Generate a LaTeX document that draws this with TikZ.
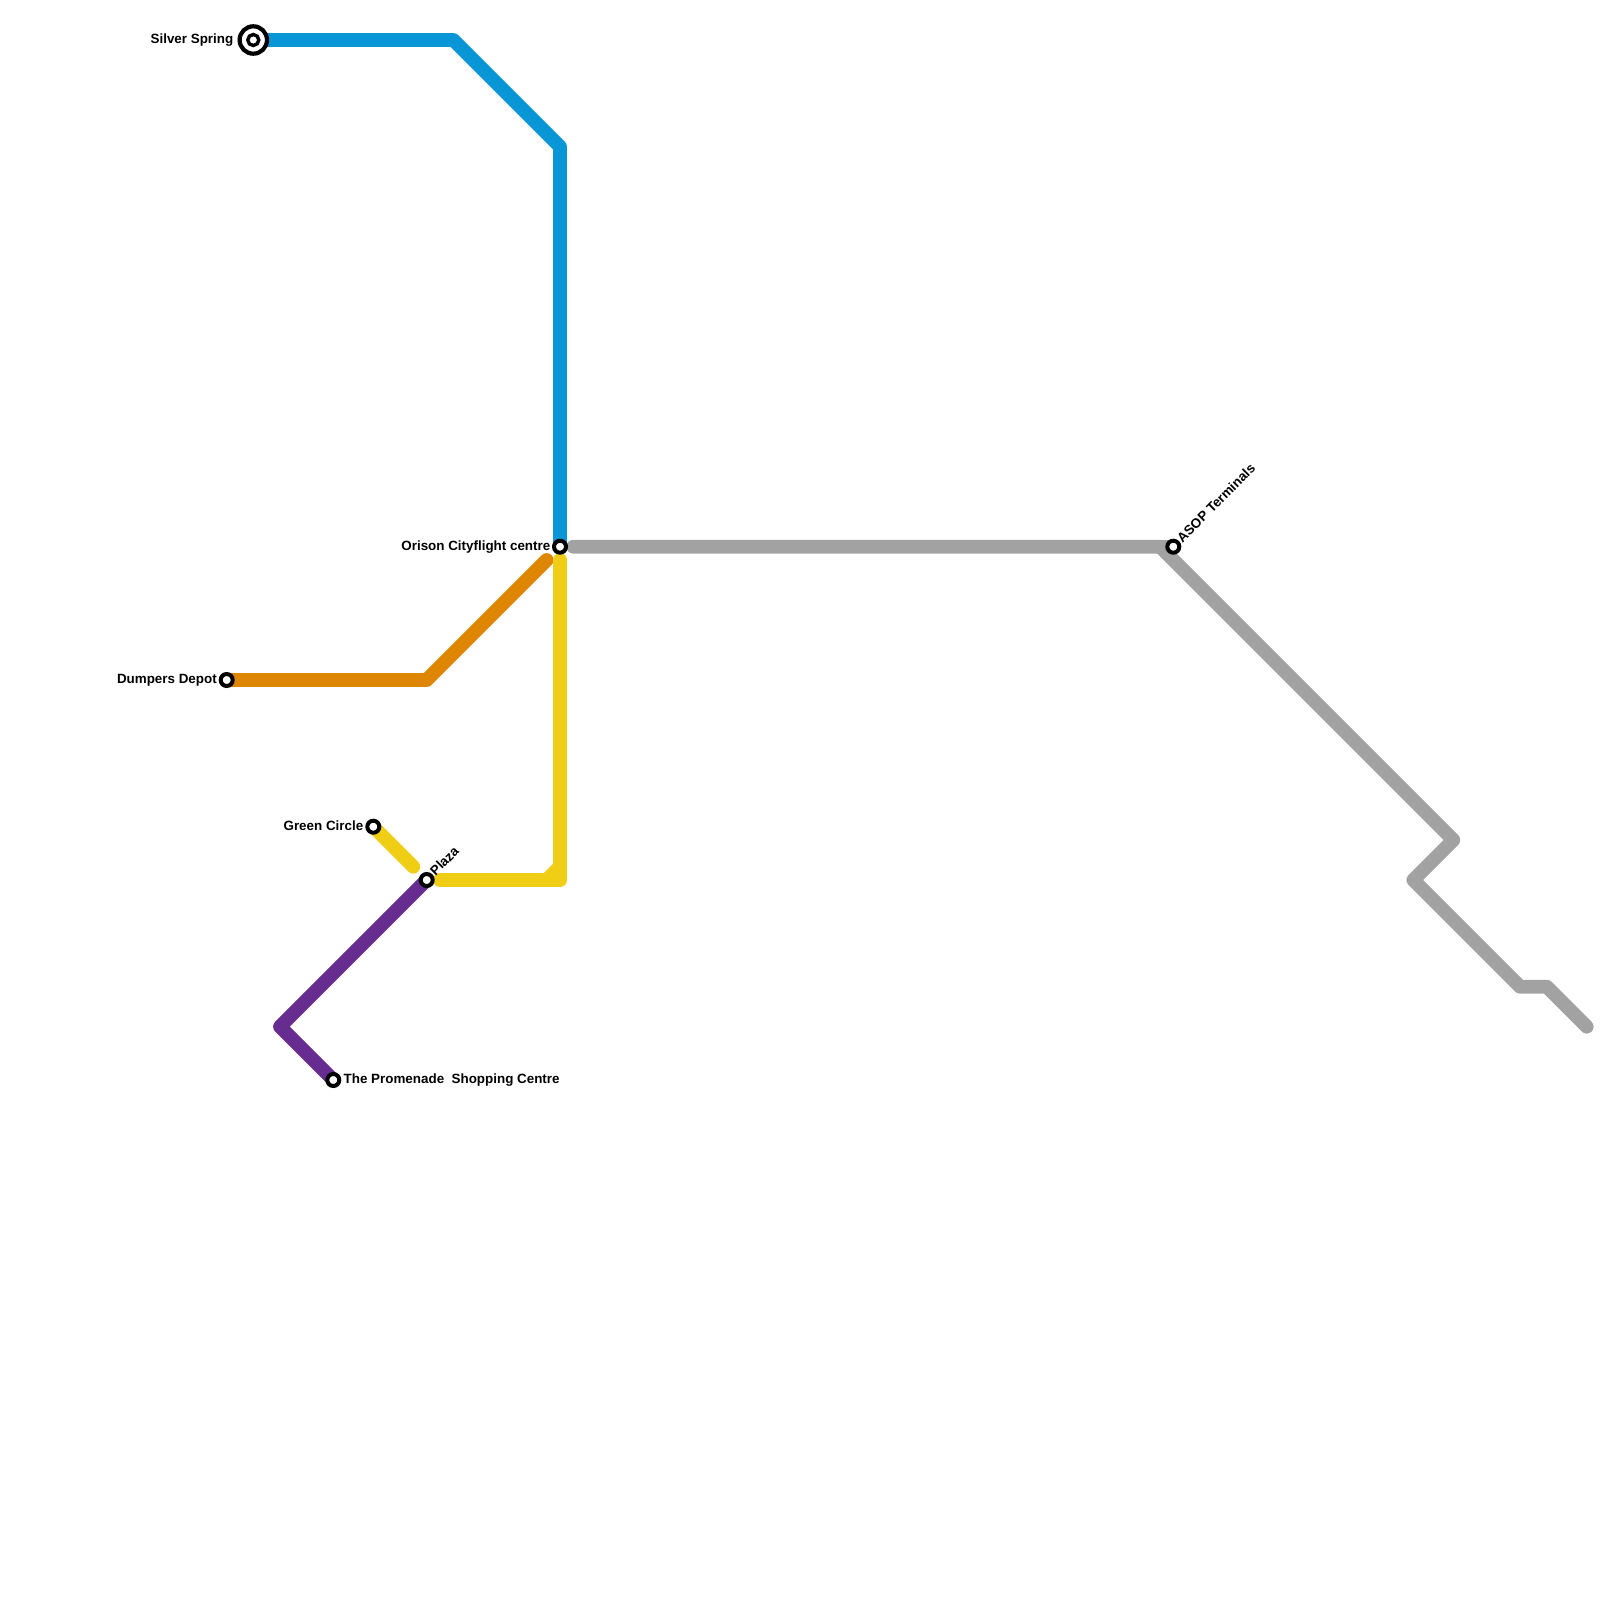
\documentclass[tikz,border=0pt]{standalone}
\usepackage{fontspec}
\setmainfont{Liberation Sans}
\definecolor{lblue}{HTML}{0896D7}
\definecolor{lgray}{HTML}{A2A2A2}
\definecolor{lorange}{HTML}{DF8600}
\definecolor{lyellow}{HTML}{F0CE15}
\definecolor{lpurple}{HTML}{662C90}
\tikzset{
  metro/.style={line width=13.8pt,line cap=round,line join=round},
  stn/.style={circle,draw=black,fill=white,line width=4pt,minimum size=12pt,inner sep=0pt,outer sep=0pt},
  stnbig/.style={circle,draw=black,fill=white,line width=4.2pt,minimum size=27.4pt,inner sep=0pt,outer sep=0pt},
  stnin/.style={circle,draw=black,fill=white,line width=3.4pt,minimum size=11pt,inner sep=0pt,outer sep=0pt},
  lab/.style={font=\fontsize{13.4pt}{15pt}\selectfont\bfseries,inner sep=0pt,text=black},
}
\begin{document}
\begin{tikzpicture}[x=1pt,y=-1pt]
\useasboundingbox (0,0) rectangle (1600,1600);
% waypoints
\coordinate (b1) at (453.3,40);
\coordinate (b2) at (560,146.7);
\coordinate (g0) at (573.3,546.7);
\coordinate (g1) at (1160,546.7);
\coordinate (g2) at (1453.3,840);
\coordinate (g3) at (1413.3,880);
\coordinate (g4) at (1520,986.7);
\coordinate (g5) at (1546.7,986.7);
\coordinate (g6) at (1586.7,1026.7);
\coordinate (o1) at (426.7,680);
\coordinate (o2) at (546.7,560);
\coordinate (y1) at (413.3,866.7);
\coordinate (y2) at (440,880);
\coordinate (y3) at (560,880);
\coordinate (y4) at (560,560);
\coordinate (y5) at (546.7,880);
\coordinate (y6) at (560,866.7);
\coordinate (p1) at (280,1026.7);
% station centres
\coordinate (silver) at (253.3,40);
\coordinate (orison) at (560,546.7);
\coordinate (asop) at (1173.3,546.7);
\coordinate (dumpers) at (226.7,680);
\coordinate (green) at (373.3,826.7);
\coordinate (plaza) at (426.7,880);
\coordinate (prom) at (333.3,1080);
% lines
\draw[metro,lblue] (silver) -- (b1) -- (b2) -- (orison);
\draw[metro,lgray] (g0) -- (g1) -- (g2) -- (g3) -- (g4) -- (g5) -- (g6);
\draw[metro,lgray] (g1) -- (asop);
\draw[metro,lorange] (dumpers) -- (o1) -- (o2);
\draw[metro,lyellow] (green) -- (y1);
\draw[metro,lyellow] (y2) -- (y3) -- (y4);
\draw[metro,lyellow,line cap=butt] (y5) -- (y6);
\draw[metro,lpurple] (plaza) -- (p1) -- (prom);
% stations
\node[stnbig] (silverO) at (silver) {};
\node[stnin] (silverI) at (silver) {};
\node[stn] (orisonS) at (orison) {};
\node[stn] (asopS) at (asop) {};
\node[stn] (dumpersS) at (dumpers) {};
\node[stn] (greenS) at (green) {};
\node[stn] (plazaS) at (plaza) {};
\node[stn] (promS) at (prom) {};
% labels
\node[lab,anchor=east] (silverL) at (233.5,40) {Silver Spring};
\node[lab,anchor=east] (orisonL) at (550.5,547) {Orison Cityflight centre};
\node[lab,anchor=east] (dumpersL) at (217,680) {Dumpers Depot};
\node[lab,anchor=east] (greenL) at (363.5,826) {Green Circle};
\node[lab,anchor=west] (promL) at (343.5,1080) {The Promenade\ \ Shopping Centre};
\node[lab,anchor=west,rotate=45] (plazaL) at (432,873) {Plaza};
\node[lab,anchor=west,rotate=45] (asopL) at (1179,540) {ASOP Terminals};
\end{tikzpicture}
\end{document}
